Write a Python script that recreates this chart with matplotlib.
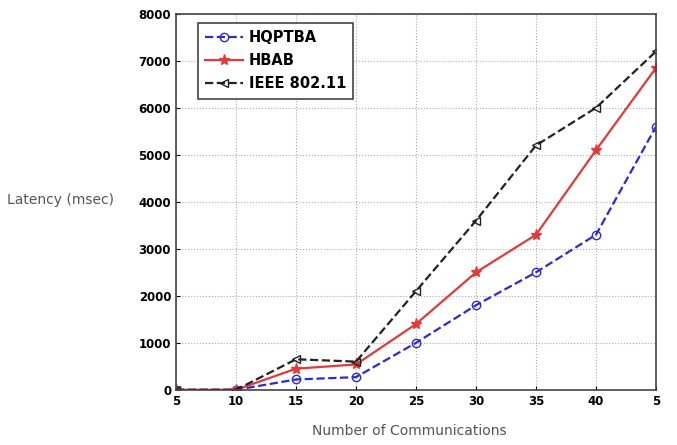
import numpy as np
import matplotlib.pyplot as plt

x = [5, 10, 15, 20, 25, 30, 35, 40, 45]
xlabels = ['5', '10', '15', '20', '25', '30', '35', '40', '5']
hqptba = [0, 0, 220, 270, 1000, 1800, 2500, 3300, 5600]
hbab = [0, 0, 450, 540, 1400, 2500, 3300, 5100, 6850]
ieee = [0, 0, 650, 600, 2100, 3600, 5200, 6000, 7200]

fig = plt.figure(figsize=(6.77, 4.45), dpi=100)
ax = fig.add_axes([0.26, 0.124, 0.709, 0.845])

ax.plot(x, hqptba, '--o', color='#2b2bd0', mfc='none', ms=6, lw=1.6, label='HQPTBA')
ax.plot(x, hbab, '-*', color='#e03a3a', ms=8, lw=1.6, label='HBAB')
ax.plot(x, ieee, '--<', color='#222222', mfc='none', ms=6, lw=1.6, label='IEEE 802.11')

ax.set_xlim(5, 45)
ax.set_ylim(0, 8000)
ax.set_xticks(x)
ax.set_xticklabels(xlabels, fontweight='bold', fontsize=8.5)
ax.set_yticks(np.arange(0, 8001, 1000))
ax.set_yticklabels([str(v) for v in range(0, 8001, 1000)], fontweight='bold', fontsize=8.5)
ax.tick_params(direction='in', length=3)
ax.grid(True, linestyle=':', color='#aaaaaa', lw=0.8)
for s in ax.spines.values():
    s.set_linewidth(1.2)
    s.set_color('#444444')

leg = ax.legend(loc='upper left', bbox_to_anchor=(0.03, 0.995),
                prop={'weight': 'bold', 'size': 10.5}, fancybox=False,
                edgecolor='#444444', framealpha=1, handlelength=2.6,
                labelspacing=0.55, borderpad=0.5, handletextpad=0.4)
leg.get_frame().set_linewidth(1.2)

fig.text(0.01, 0.55, 'Latency (msec)', color='#555555', fontsize=10, va='center')
fig.text(0.605, 0.022, 'Number of Communications', color='#555555', fontsize=10, ha='center')

fig.savefig('out.png', dpi=100)
